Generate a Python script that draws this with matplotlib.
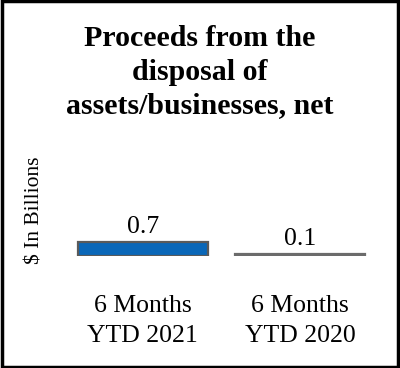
import matplotlib.pyplot as plt
from matplotlib.patches import Rectangle

categories = ["6 Months\nYTD 2021", "6 Months\nYTD 2020"]
values = [0.7, 0.1]
value_labels = ["0.7", "0.1"]
colors = ["#0a67b8", "#6b6b6b"]

plt.rcParams['font.family'] = ['Liberation Serif', 'DejaVu Serif']

fig = plt.figure(figsize=(4, 3.68), dpi=100)
ax = fig.add_axes([0.16, 112 / 368, 0.7875, 116 / 368])

x = range(len(values))
ax.bar(x, values, width=0.825, color=colors, edgecolor=["#5a5a5a", "#6b6b6b"], linewidth=1.6)
for i, v in enumerate(values):
    ax.annotate(value_labels[i], (i, v), xytext=(0, 3), textcoords="offset points",
                ha="center", va="bottom", fontsize=18.5)

ax.set_xlim(-0.5, 1.5)
ax.set_ylim(0, 5.8)
ax.set_xticks(list(x))
ax.set_xticklabels(categories, fontsize=18.5, linespacing=1.45)
ax.tick_params(axis="x", length=0, pad=28)
ax.set_yticks([])
for s in ax.spines.values():
    s.set_visible(False)

fig.text(35 / 400, 1 - 210 / 368, "$ In Billions", rotation=90, ha="center", va="center", fontsize=15.5)
fig.text(0.5, 1 - 72 / 368, "Proceeds from the\ndisposal of\nassets/businesses, net",
         ha="center", va="center", fontsize=21.5, fontweight="bold", linespacing=1.32)

fig.patches.append(Rectangle((0.004, 0.004), 0.992, 0.992, transform=fig.transFigure,
                             fill=False, edgecolor="black", linewidth=2.5))

fig.savefig("out.png", dpi=100)
